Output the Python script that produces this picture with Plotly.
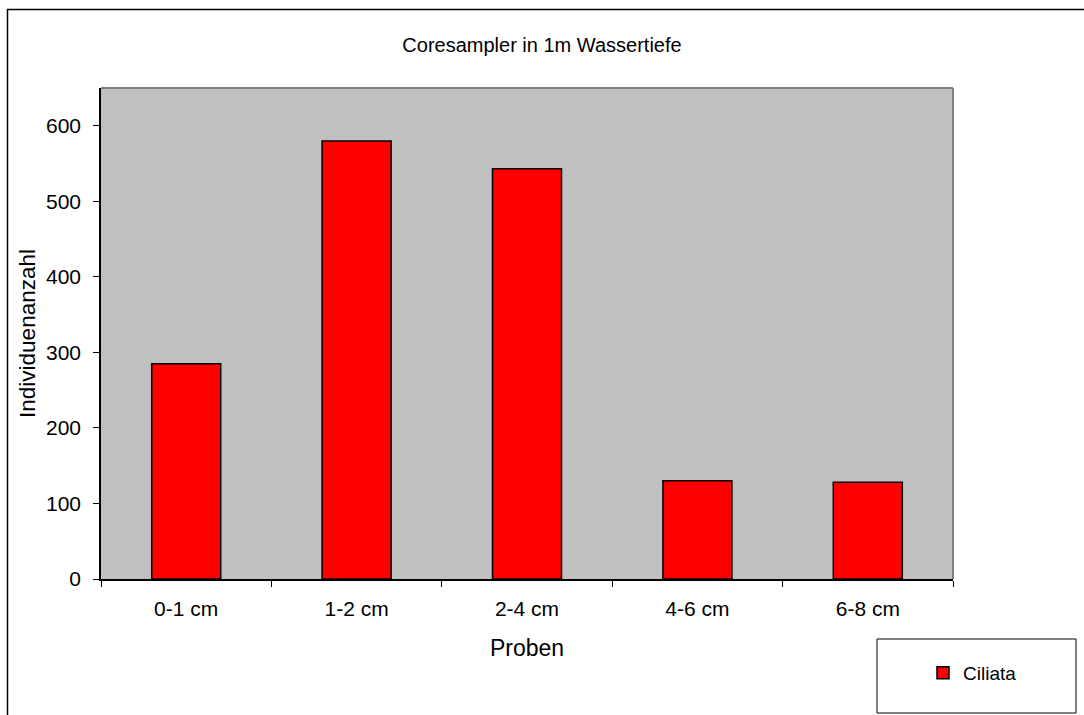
import plotly.graph_objects as go

categories = ["0-1 cm", "1-2 cm", "2-4 cm", "4-6 cm", "6-8 cm"]
ciliata = [285, 580, 543, 130, 128]
series_name = "Ciliata"
title_text = "Coresampler in 1m Wassertiefe"
x_title = "Proben"
y_title = "Individuenanzahl"

W, H = 1084, 715
L, R, T, B = 101, 131, 88, 136
PW, PH = W - L - R, H - T - B

def px_x(p):
    return (p - L) / PW

def px_y(p):
    return (H - B - p) / PH

FONT = "Liberation Sans, Arial, sans-serif"

fig = go.Figure()
fig.add_trace(go.Bar(
    x=categories, y=ciliata, name=series_name,
    marker=dict(color="#FF0000", line=dict(color="#000000", width=1.5)),
    showlegend=True,
))

fig.update_layout(
    width=W, height=H,
    margin=dict(l=L, r=R, t=T, b=B, pad=0),
    paper_bgcolor="#FFFFFF",
    plot_bgcolor="#C0C0C0",
    bargap=0.595,
    font=dict(family=FONT, color="#000000", size=20),
    title=dict(text=title_text, x=px_x(527), xanchor="center",
               y=1 - 45 / H, yanchor="middle",
               font=dict(size=20, family=FONT, color="#000000")),
    xaxis=dict(
        showgrid=False, zeroline=False,
        showline=True, linecolor="#000000", linewidth=1.5,
        ticks="outside", ticklen=6, tickcolor="#000000", tickwidth=1,
        tickson="boundaries", ticklabelstandoff=10,
        tickfont=dict(size=21, family=FONT),
        title=dict(text=x_title, font=dict(size=23, family=FONT), standoff=21),
    ),
    yaxis=dict(
        range=[0, 650], dtick=100,
        showgrid=False, zeroline=False,
        showline=True, linecolor="#000000", linewidth=1.5,
        ticks="outside", ticklen=6, tickcolor="#000000", tickwidth=1,
        ticklabelstandoff=8,
        tickfont=dict(size=21, family=FONT),
        title=dict(text=y_title, font=dict(size=22.5, family=FONT), standoff=4),
    ),
    legend=dict(
        x=px_x(923), xanchor="left",
        y=px_y(673), yanchor="middle",
        bgcolor="rgba(0,0,0,0)", borderwidth=0,
        font=dict(size=19, family=FONT),
    ),
    shapes=[
        dict(type="rect", xref="paper", yref="paper",
             x0=px_x(7.5), x1=px_x(1200), y0=px_y(900), y1=px_y(9.5),
             line=dict(color="#000000", width=1.5), fillcolor="rgba(0,0,0,0)",
             layer="below"),
        dict(type="line", xref="paper", yref="paper", x0=0, x1=1, y0=1, y1=1,
             line=dict(color="#808080", width=2), layer="above"),
        dict(type="line", xref="paper", yref="paper", x0=1, x1=1, y0=0, y1=1,
             line=dict(color="#808080", width=2), layer="above"),
        dict(type="rect", xref="paper", yref="paper",
             x0=px_x(877), x1=px_x(1076), y0=px_y(713), y1=px_y(639),
             line=dict(color="#000000", width=1), fillcolor="#FFFFFF",
             layer="below"),
    ],
)

fig.write_html("out.html",
               config={"displayModeBar": False},
               post_script="document.body.style.margin='0';document.body.style.overflow='hidden';")
